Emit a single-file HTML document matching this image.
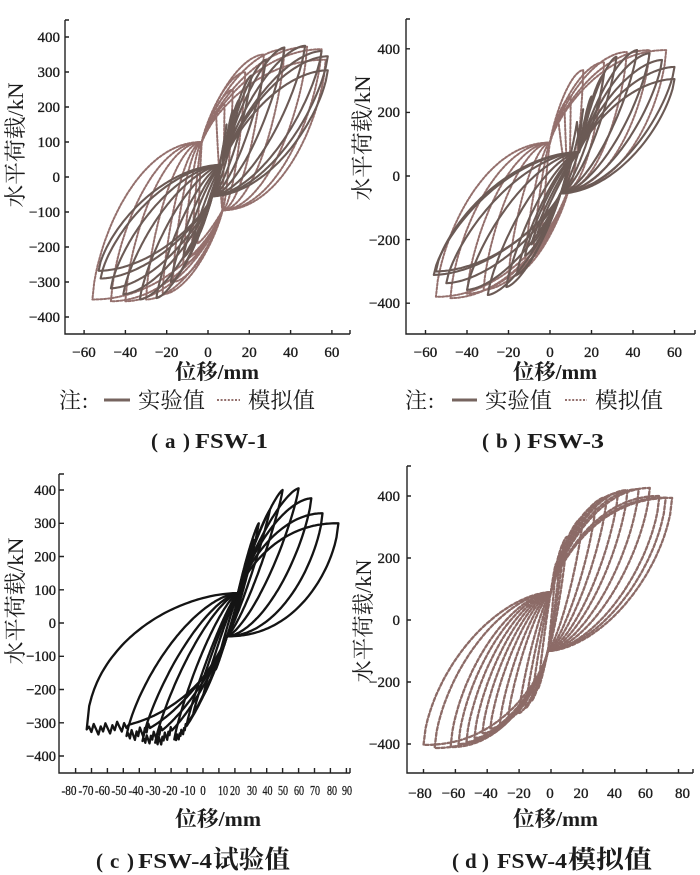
<!DOCTYPE html>
<html><head><meta charset="utf-8">
<style>
html,body{margin:0;padding:0;background:#fff;}
svg{display:block;}
text{font-family:"Liberation Serif","Noto Serif CJK SC",serif;fill:#1c1c1c;}
.t{font-size:15px;stroke:#1c1c1c;stroke-width:0.35px;}
.tc{font-size:14px;stroke:#1c1c1c;stroke-width:0.3px;}
.b{font-weight:bold;}
</style></head><body>
<svg id="s" width="700" height="875" viewBox="0 0 700 875" xmlns="http://www.w3.org/2000/svg">
<g id="curves" fill="none" stroke-linejoin="round" stroke-linecap="round"></g>
<g id="axes" stroke="#222" stroke-width="1.4" fill="none"></g>

<!-- Panel a tick labels -->
<g class="t" text-anchor="end">
<text x="60" y="42">400</text><text x="60" y="77">300</text><text x="60" y="112">200</text><text x="60" y="147">100</text><text x="60" y="182">0</text><text x="60" y="217">−100</text><text x="60" y="252">−200</text><text x="60" y="287">−300</text><text x="60" y="322">−400</text>
</g>
<g class="t" text-anchor="middle">
<text x="84" y="357">−60</text><text x="125.4" y="357">−40</text><text x="166.7" y="357">−20</text><text x="208" y="357">0</text><text x="249.3" y="357">20</text><text x="290.6" y="357">40</text><text x="331.9" y="357">60</text>
</g>
<!-- Panel b tick labels -->
<g class="t" text-anchor="end">
<text x="400" y="54">400</text><text x="400" y="117">200</text><text x="400" y="181">0</text><text x="400" y="245">−200</text><text x="400" y="308">−400</text>
</g>
<g class="t" text-anchor="middle">
<text x="425.5" y="357">−60</text><text x="467" y="357">−40</text><text x="508.5" y="357">−20</text><text x="550" y="357">0</text><text x="591.5" y="357">20</text><text x="633" y="357">40</text><text x="674.5" y="357">60</text>
</g>
<!-- Panel c tick labels -->
<g class="t" text-anchor="end" style="font-size:14.5px">
<text x="56" y="495">400</text><text x="56" y="528">300</text><text x="56" y="561.5">200</text><text x="56" y="595">100</text><text x="56" y="628">0</text><text x="56" y="661">−100</text><text x="56" y="694.5">−200</text><text x="56" y="728">−300</text><text x="56" y="761">−400</text>
</g>
<g class="tc">
<text x="61.5" y="795" textLength="15" lengthAdjust="spacingAndGlyphs">-80</text>
<text x="78.5" y="795" textLength="15" lengthAdjust="spacingAndGlyphs">-70</text>
<text x="95" y="795" textLength="15" lengthAdjust="spacingAndGlyphs">-60</text>
<text x="111.5" y="795" textLength="15" lengthAdjust="spacingAndGlyphs">-50</text>
<text x="128.5" y="795" textLength="15" lengthAdjust="spacingAndGlyphs">-40</text>
<text x="145.5" y="795" textLength="15" lengthAdjust="spacingAndGlyphs">-30</text>
<text x="162.5" y="795" textLength="15" lengthAdjust="spacingAndGlyphs">-20</text>
<text x="180.5" y="795" textLength="15" lengthAdjust="spacingAndGlyphs">-10</text>
<text x="200.3" y="795" textLength="5.5" lengthAdjust="spacingAndGlyphs">0</text>
<text x="218" y="795" textLength="10" lengthAdjust="spacingAndGlyphs">10</text>
<text x="230" y="795" textLength="10" lengthAdjust="spacingAndGlyphs">20</text>
<text x="247" y="795" textLength="10" lengthAdjust="spacingAndGlyphs">30</text>
<text x="262.5" y="795" textLength="10" lengthAdjust="spacingAndGlyphs">40</text>
<text x="278" y="795" textLength="10" lengthAdjust="spacingAndGlyphs">50</text>
<text x="294" y="795" textLength="10" lengthAdjust="spacingAndGlyphs">60</text>
<text x="310" y="795" textLength="10" lengthAdjust="spacingAndGlyphs">70</text>
<text x="327" y="795" textLength="10" lengthAdjust="spacingAndGlyphs">80</text>
<text x="342" y="795" textLength="10" lengthAdjust="spacingAndGlyphs">90</text>
</g>
<!-- Panel d tick labels -->
<g class="t" text-anchor="end">
<text x="400" y="501">400</text><text x="400" y="563">200</text><text x="400" y="625">0</text><text x="400" y="687">−200</text><text x="400" y="749">−400</text>
</g>
<g class="t" text-anchor="middle">
<text x="420" y="798">−80</text><text x="453.5" y="798">−60</text><text x="486" y="798">−40</text><text x="519" y="798">−20</text><text x="550" y="798">0</text><text x="581" y="798">20</text><text x="614.5" y="798">40</text><text x="645.5" y="798">60</text><text x="682.5" y="798">80</text>
</g>

<!-- Y axis labels -->
<text transform="translate(23,145) rotate(-90)" text-anchor="middle" style="font-size:22px" textLength="125" lengthAdjust="spacingAndGlyphs">水平荷载/kN</text>
<text transform="translate(370,138) rotate(-90)" text-anchor="middle" style="font-size:22px" textLength="125" lengthAdjust="spacingAndGlyphs">水平荷载/kN</text>
<text transform="translate(23,601) rotate(-90)" text-anchor="middle" style="font-size:22px" textLength="127" lengthAdjust="spacingAndGlyphs">水平荷载/kN</text>
<text transform="translate(371,621) rotate(-90)" text-anchor="middle" style="font-size:22px" textLength="123" lengthAdjust="spacingAndGlyphs">水平荷载/kN</text>

<!-- X axis labels -->
<g class="b">
<text x="175" y="379" style="font-size:21px" textLength="84" lengthAdjust="spacingAndGlyphs">位移/mm</text>
<text x="513" y="379" style="font-size:21px" textLength="84" lengthAdjust="spacingAndGlyphs">位移/mm</text>
<text x="175" y="826" style="font-size:21px" textLength="86" lengthAdjust="spacingAndGlyphs">位移/mm</text>
<text x="513" y="826" style="font-size:21px" textLength="85" lengthAdjust="spacingAndGlyphs">位移/mm</text>
</g>

<!-- Legends -->
<g style="font-size:22px">
<text x="59" y="408">注</text><text x="82" y="408">:</text>
<line x1="104" y1="400" x2="130" y2="400" stroke="#76645f" stroke-width="3"/>
<text x="138" y="408" textLength="67" lengthAdjust="spacingAndGlyphs">实验值</text>
<line x1="217" y1="400" x2="240" y2="400" stroke="#94706d" stroke-width="2" stroke-dasharray="2,1.6"/>
<text x="248" y="408" textLength="67" lengthAdjust="spacingAndGlyphs">模拟值</text>

<text x="405" y="408">注</text><text x="428" y="408">:</text>
<line x1="452" y1="400" x2="477" y2="400" stroke="#76645f" stroke-width="3"/>
<text x="485" y="408" textLength="67" lengthAdjust="spacingAndGlyphs">实验值</text>
<line x1="565" y1="400" x2="587" y2="400" stroke="#94706d" stroke-width="2" stroke-dasharray="2,1.6"/>
<text x="595" y="408" textLength="68" lengthAdjust="spacingAndGlyphs">模拟值</text>
</g>

<!-- Titles -->
<g style="font-size:21px" class="b">
<text x="151" y="448">(</text><text x="165" y="448">a</text><text x="183" y="448">)</text>
<text x="195" y="448" textLength="73" lengthAdjust="spacingAndGlyphs">FSW-1</text>
<text x="482" y="448">(</text><text x="496" y="448">b</text><text x="514" y="448">)</text>
<text x="527" y="448" textLength="77" lengthAdjust="spacingAndGlyphs">FSW-3</text>

<text x="96" y="868">(</text><text x="110" y="868">c</text><text x="127" y="868">)</text>
<text x="138" y="868" textLength="74" lengthAdjust="spacingAndGlyphs">FSW-4</text>
<text x="213" y="868" style="font-size:25px" textLength="77" lengthAdjust="spacingAndGlyphs">试验值</text>
<text x="452" y="868">(</text><text x="465" y="868">d</text><text x="482" y="868">)</text>
<text x="497" y="868" textLength="70" lengthAdjust="spacingAndGlyphs">FSW-4</text>
<text x="568" y="868" style="font-size:25px" textLength="84" lengthAdjust="spacingAndGlyphs">模拟值</text>
</g>
</svg>
<script>
(function(){
var NS="http://www.w3.org/2000/svg";
function el(tag,attrs,parent){var e=document.createElementNS(NS,tag);for(var k in attrs)e.setAttribute(k,attrs[k]);parent.appendChild(e);return e;}
function Lf(u,p,r){return Math.pow(Math.max(0,1-Math.pow(1-u,p)),1/r);}
function Uf(u,p,r){return 1-Math.pow(Math.max(0,1-Math.pow(u,p)),1/r);}
function ex(k,c){return {pa:1+1.4*k, ra:1+0.35*k, pb:1+c*k, rb:1+0.7*k};}
function loopPath(P,o){
  var N=60, c=o.c||1.4;
  var ep=ex(o.kp,c), en=ex(o.kn,c);
  if(o.npb)en.pb=o.npb; if(o.nrb)en.rb=o.nrb;
  var q1x=o.q1[0],q1y=o.q1[1],q2x=o.q2[0],q2y=o.q2[1];
  var pts=[],i,u,y;
  for(i=0;i<=N;i++){u=i/N;pts.push([q1x+(o.D-q1x)*u,q1y+(o.P-q1y)*Lf(u,ep.pa,ep.ra)]);}
  for(i=N;i>=0;i--){u=i/N;pts.push([q2x+(o.D-q2x)*u,q2y+(o.P-q2y)*Uf(u,ep.pb,ep.rb)]);}
  for(i=0;i<=N;i++){u=i/N;y=q2y+(o.Pn-q2y)*Lf(u,en.pa,en.ra);
    if(o.jag&&u>(o.jagFrom||0.78)&&u<0.99){y+=o.jag*((((i*7)%5)-2)/2);}
    pts.push([q2x+(o.Dn-q2x)*u,y]);}
  for(i=N;i>=0;i--){u=i/N;pts.push([q1x+(o.Dn-q1x)*u,q1y+(o.Pn-q1y)*Uf(u,en.pb,en.rb)]);}
  var s='';
  for(i=0;i<pts.length;i++){s+=(i?'L':'M')+(P.X0+pts[i][0]*P.sx).toFixed(1)+','+(P.Y0-pts[i][1]*P.sy).toFixed(1);}
  return s+'Z';
}
var A={X0:208,sx:2.065,Y0:177,sy:0.35,ax:65,ay:334,ytop:20,xend:350,xt:[-60,-40,-20,0,20,40,60],yt:[-400,-300,-200,-100,0,100,200,300,400],tl:4};
var B={X0:550,sx:2.075,Y0:176,sy:0.318,ax:406,ay:334,ytop:19,xend:695,xt:[-60,-40,-20,0,20,40,60],yt:[-400,-200,0,200,400],tl:4};
var C={X0:203,sx:1.593,Y0:623,sy:0.3325,ax:59,ay:773,ytop:474,xend:350,xt:[],yt:[-400,-300,-200,-100,0,100,200,300,400],tl:5};
for(var v=-80;v<=90;v+=10)C.xt.push(v);
var D={X0:551,sx:1.594,Y0:620,sy:0.31,ax:407,ay:773,ytop:466,xend:693,xt:[-80,-60,-40,-20,0,20,40,60,80],yt:[-400,-200,0,200,400],tl:4};

var ax=document.getElementById('axes');
function axes(P){
  var d='M'+P.ax+','+P.ytop+'V'+P.ay+'H'+P.xend;
  P.xt.forEach(function(x){var X=(P.X0+x*P.sx).toFixed(1);d+='M'+X+','+P.ay+'v'+(-P.tl);});
  P.yt.forEach(function(y){var Y=(P.Y0-y*P.sy).toFixed(1);d+='M'+P.ax+','+Y+'h'+P.tl;});
  d+='M'+P.ax+','+P.ytop+'h'+P.tl;
  d+='M'+P.xend+','+P.ay+'v'+(-P.tl);
  el('path',{d:d},ax);
}
[A,B,C,D].forEach(axes);

var cg=document.getElementById('curves');
function draw(P,loops,base,style){
  var g=el('g',style,cg);
  loops.forEach(function(l){
    var o={};for(var k in base)o[k]=base[k];
    o.D=l[0];o.P=l[1];o.Dn=l[2];o.Pn=l[3];o.kp=l[4];o.kn=(l[5]!=null?l[5]:l[4]);
    if(l[6])for(var k2 in l[6])o[k2]=l[6][k2];
    el('path',{d:loopPath(P,o)},g);
  });
}
var dotA={stroke:'#94706d','stroke-width':'2','stroke-dasharray':'2.2,1.7'};
var solid={stroke:'#6b5a55','stroke-width':'2.1'};

// Panel a
draw(A,[[4,170,-5,-190,.15],[8,210,-8,-225,.25],[12,250,-12,-250,.4],[18,300,-17,-300,.5],[27,350,-22,-335,.55],[37,365,-30,-350,.6],[48,372,-40,-355,.65],[55,365,-47,-355,.7],[57,335,-56,-350,.75]],
  {q1:[-3,100],q2:[7,-95]},dotA);
draw(A,[[9,150,-4,-160,.12],[12,190,-8,-200,.18],[15,220,-12,-230,.25],[21,290,-18,-300,.3],[28,335,-25,-346,.35],[37,370,-33,-350,.4],[47,375,-41,-335,.45],[55,360,-47,-318,.5],[58,345,-52,-290,.55],[58,305,-53,-268,.6]],
  {q1:[7,35],q2:[2,-55]},solid);
// Panel b
draw(B,[[4,180,-4,-200,.15],[7,220,-8,-240,.25],[10,250,-12,-270,.4],[16,333,-20,-320,.5],[26,358,-32,-358,.55],[37,390,-40,-370,.6],[48,396,-48,-384,.68],[56,396,-55,-380,.75]],
  {q1:[0,105],q2:[9,-40]},dotA);
draw(B,[[13,170,-6,-180,.12],[16,210,-9,-215,.18],[20,250,-12,-250,.25],[26,320,-16,-310,.3],[32,375,-21,-349,.35],[42,396,-30,-374,.4],[48,386,-40,-358,.45],[54,365,-50,-337,.5],[60,343,-56,-311,.55],[60,305,-55,-300,.6]],
  {q1:[14,75],q2:[5,-55]},solid);
// Panel c
draw(C,[[28,190,8,-140,.06,.06],[32,250,0,-220,.1,.1],[42,340,-6,-270,.12,.12],
        [35,300,-10,-300,.15,.15],
        [50,400,-18,-350,.2,.25,{jag:10}],
        [60,405,-30,-360,.3,.3,{jag:14}],
        [68,375,-38,-355,.5,.35,{jag:14}],
        [75,330,-48,-340,.7,.45,{jag:16}],
        [85,300,-73,-320,.85,.9,{jag:16,jagFrom:0.7,npb:1.8,nrb:2}]],
  {q1:[22,90],q2:[15,-40]},{stroke:'#141414','stroke-width':'2.3'});
// Panel d
draw(D,[[3,180,-8,-220,.15],[6,220,-12,-260,.2],[8,250,-16,-285,.25],[10,268,-20,-300,.35],[20,332,-27,-320,.4],[28,370,-32,-332,.45],[35,397,-38,-350,.5],[42,410,-43,-365,.56],[48,419,-48,-380,.62],[55,422,-53,-393,.68],[62,426,-58,-400,.74],[68,400,-63,-410,.8],[72,395,-73,-413,.84],[76,394,-80,-403,.88]],
  {q1:[0,90],q2:[-2,-100],c:0.8},{stroke:'#8c6b67','stroke-width':'2.3','stroke-dasharray':'3.4,2.2'});
})();
</script>
</body></html>
